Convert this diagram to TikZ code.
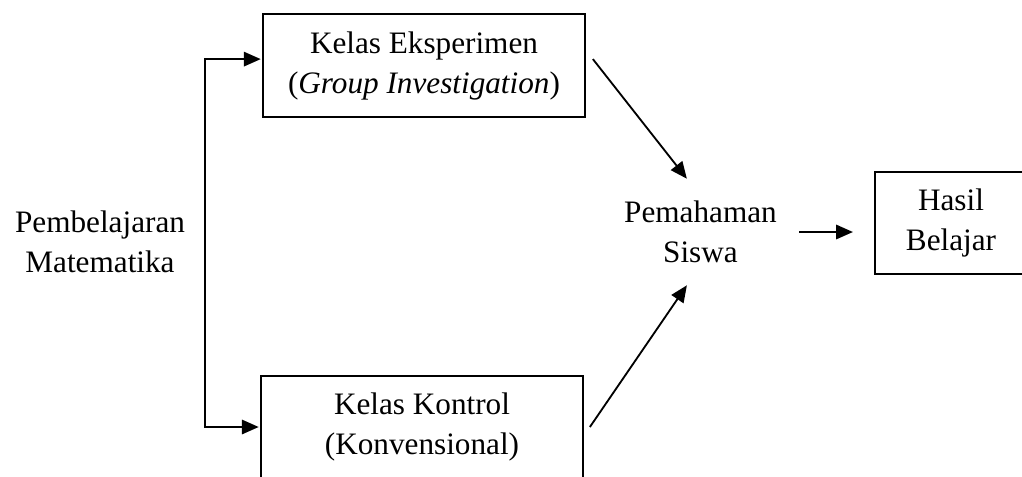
\documentclass[tikz,border=0pt]{standalone}
\usepackage{fontspec}
\setmainfont{Liberation Serif}
\usetikzlibrary{arrows.meta}

\tikzset{
	kotak/.style={draw, line width=1.2pt, inner sep=0pt, align=center},
	teks/.style={align=center, inner sep=0pt},
	panah/.style={line width=1.3pt, -{Triangle[length=0.42cm,width=0.36cm]}}
}

\begin{document}
\begin{tikzpicture}[x=0.025cm, y=-0.025cm]
	\fontsize{22.2}{28.45}\selectfont
	\useasboundingbox (0,0) rectangle (1022,476);
	
	\node[teks] (belajar) at (100,242) {Pembelajaran\\Matematika};
	\node[kotak, minimum width=8.05cm, minimum height=2.575cm] (eksp) at (424,65.5) {Kelas Eksperimen\\(\textit{Group Investigation})};
	\node[kotak, minimum width=8.05cm, minimum height=2.55cm] (kontrol) at (422,427) {Kelas Kontrol\\(Konvensional)};
	\node[teks, inner xsep=0.56cm, inner ysep=0.55cm] (paham) at (700.5,232) {Pemahaman\\Siswa};
	\node[kotak, minimum width=3.8cm, minimum height=2.55cm] (hasil) at (951,223) {Hasil\\Belajar};
	
	\coordinate (cabang) at (205,243);
	\draw[panah, shorten >=1pt] (cabang) |- ([yshift=0.16cm]eksp.west);
	\draw[panah, shorten >=1pt] (cabang) |- (kontrol.west);
	
	\draw[panah] ([xshift=0.175cm,yshift=0.16cm]eksp.east) -- ([xshift=-0.34cm]paham.north);
	\draw[panah] ([xshift=0.15cm]kontrol.east) -- ([xshift=-0.34cm]paham.south);
	\draw[panah, shorten >=0.53cm] (paham.east) -- (paham.east -| hasil.west);
\end{tikzpicture}
\end{document}
